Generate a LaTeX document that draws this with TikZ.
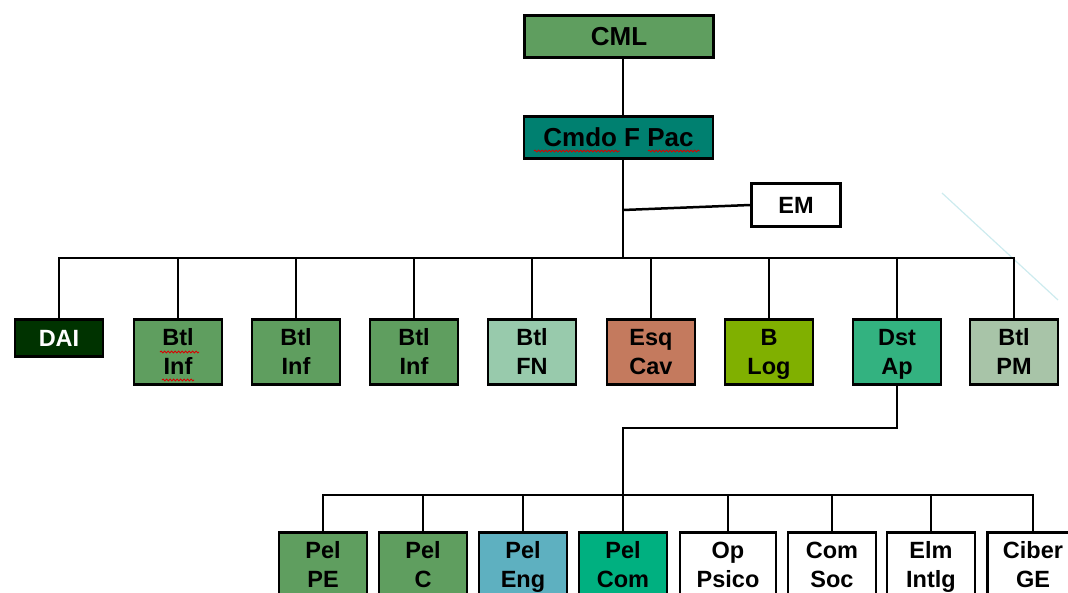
\documentclass[tikz,border=0pt]{standalone}
\usepackage{fontspec}
\setmainfont{Liberation Sans}
\usetikzlibrary{decorations.pathmorphing}
\definecolor{gmed}{RGB}{95,158,95}
\definecolor{cmdoc}{RGB}{0,128,112}
\definecolor{daic}{RGB}{0,51,0}
\definecolor{fnc}{RGB}{152,202,172}
\definecolor{cavc}{RGB}{196,122,94}
\definecolor{logc}{RGB}{128,176,0}
\definecolor{dstc}{RGB}{51,178,128}
\definecolor{pmc}{RGB}{168,196,168}
\definecolor{engc}{RGB}{94,176,192}
\definecolor{comc}{RGB}{0,176,128}
\definecolor{faint}{RGB}{205,235,238}
\begin{document}
\begin{tikzpicture}[x=1pt,y=-1pt,
  basebox/.style={draw=black, line width=2.8pt, minimum width=88pt, minimum height=65pt,
    inner sep=0pt, align=center, font=\bfseries\fontsize{23.5}{29}\selectfont, text=black,
    execute at end node={\rule[-0.26em]{0pt}{0pt}}},
  box/.style={basebox, execute at begin node={\rule{0pt}{2.2em}}},
  single/.style={basebox, execute at begin node={\rule{0pt}{0.95em}}},
  topbox/.style={single, minimum width=189pt, minimum height=42pt, font=\bfseries\fontsize{26}{30}\selectfont},
  conn/.style={line width=2.5pt, black},
  squig/.style={red!85!black, line width=0.9pt, decorate,
    decoration={snake, amplitude=0.9pt, segment length=3.5pt}}
]
\useasboundingbox (0,0) rectangle (1068,592);

% faint diagonal line
\draw[line width=1.2pt, faint] (942,193) -- (1058,300);

% top
\node[topbox, fill=gmed] (cml) at (619,36.5) {CML};
\node[topbox, fill=cmdoc] (cmdo) at (618.5,137.5) {Cmdo F Pac};
\node[single, minimum width=89pt, minimum height=43pt, fill=white] (em) at (796,205) {EM};

% second row
\node[single, minimum height=37pt, fill=daic, text=white] (dai) at (59,338) {DAI};
\node[box, fill=gmed] (b1) at (178,352) {Btl\\Inf};
\node[box, fill=gmed] (b2) at (296,352) {Btl\\Inf};
\node[box, fill=gmed] (b3) at (414,352) {Btl\\Inf};
\node[box, fill=fnc] (fn) at (532,352) {Btl\\FN};
\node[box, fill=cavc] (cav) at (651,352) {Esq\\Cav};
\node[box, fill=logc] (log) at (769,352) {B\\Log};
\node[box, fill=dstc] (dst) at (897,352) {Dst\\Ap};
\node[box, fill=pmc] (pm) at (1014,352) {Btl\\PM};

% third row
\node[box, fill=gmed] (pe) at (323,565) {Pel\\PE};
\node[box, fill=gmed] (pc) at (423,565) {Pel\\C};
\node[box, fill=engc] (eng) at (523,565) {Pel\\Eng};
\node[box, fill=comc] (com) at (623,565) {Pel\\Com};
\node[box, minimum width=96pt, fill=white] (psico) at (728,565) {Op\\Psico};
\node[box, fill=white] (soc) at (832,565) {Com\\Soc};
\node[box, fill=white] (intlg) at (931,565) {Elm\\Intlg};
\node[box, minimum width=91pt, fill=white] (ciber) at (1033,565) {Ciber\\GE};

% junctions
\coordinate (jem) at (623,210);
\coordinate (j1) at (623,258);
\coordinate (j2) at (623,428);
\coordinate (j3) at (623,495);

% connectors
\draw[conn] (cml.south -| j1) -- (cmdo.north -| j1);
\draw[conn] (cmdo.south -| j1) -- (j1);
\draw[conn] (jem) -- (em.west);
\foreach \n in {dai,b1,b2,b3,fn,cav,log,dst,pm}
  \draw[conn] (j1) -| (\n.north);
\draw[conn] (dst.south) |- (j2) -- (j3);
\foreach \n in {pe,pc,eng,com,psico,soc,intlg,ciber}
  \draw[conn] (j3) -| (\n.north);

% spell-check squiggles
\draw[squig] (534,151) -- (620,151);
\draw[squig] (648,151) -- (700,151);
\draw[squig] (160,352) -- (199,352);
\draw[squig] (162,380) -- (194,380);
\end{tikzpicture}
\end{document}
